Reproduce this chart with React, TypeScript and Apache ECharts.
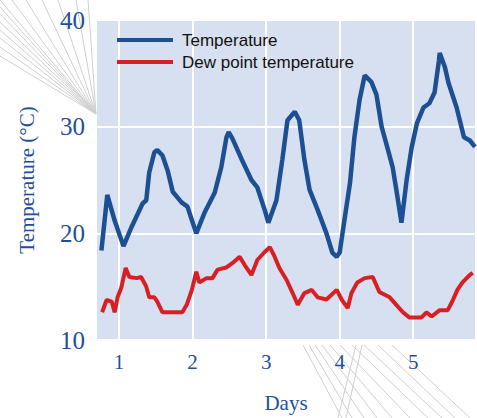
import React, { useEffect, useRef } from "react";
import * as echarts from "echarts";

// Days (x) and temperatures (°C)
const tempDays = [0.76, 0.84, 0.94, 1.06, 1.17, 1.32, 1.37, 1.41, 1.48, 1.52, 1.59, 1.66, 1.73, 1.85, 1.93, 2.03, 2.05, 2.16, 2.30, 2.39, 2.46, 2.49, 2.54, 2.67, 2.80, 2.88, 2.98, 3.03, 3.14, 3.22, 3.29, 3.39, 3.45, 3.52, 3.59, 3.70, 3.82, 3.90, 3.96, 4.00, 4.07, 4.14, 4.20, 4.27, 4.34, 4.43, 4.50, 4.57, 4.63, 4.72, 4.77, 4.84, 4.91, 4.98, 5.05, 5.14, 5.22, 5.29, 5.35, 5.36, 5.43, 5.48, 5.59, 5.69, 5.77, 5.84];
const tempValues = [18.4, 23.6, 21.2, 18.8, 20.6, 22.8, 23.1, 25.7, 27.6, 27.8, 27.3, 25.9, 23.9, 22.9, 22.5, 20.4, 20.0, 21.9, 23.8, 26.2, 29.0, 29.5, 28.9, 26.9, 25.0, 24.3, 22.2, 21.0, 23.1, 26.9, 30.6, 31.4, 30.6, 26.9, 24.1, 22.2, 20.0, 18.2, 17.8, 18.2, 21.5, 24.7, 29.0, 32.5, 34.8, 34.2, 33.0, 30.0, 28.5, 26.2, 24.1, 21.0, 25.0, 28.1, 30.3, 31.8, 32.2, 33.2, 36.2, 36.9, 35.6, 34.1, 31.8, 29.0, 28.7, 28.1];

const dewDays = [0.77, 0.83, 0.90, 0.94, 0.98, 1.03, 1.09, 1.14, 1.24, 1.30, 1.37, 1.41, 1.48, 1.52, 1.59, 1.73, 1.86, 1.92, 1.99, 2.05, 2.09, 2.19, 2.27, 2.34, 2.46, 2.54, 2.64, 2.71, 2.80, 2.88, 2.98, 3.05, 3.11, 3.18, 3.28, 3.36, 3.43, 3.52, 3.62, 3.70, 3.82, 3.96, 4.03, 4.11, 4.16, 4.24, 4.34, 4.45, 4.54, 4.68, 4.77, 4.86, 4.95, 5.11, 5.18, 5.25, 5.36, 5.47, 5.54, 5.60, 5.67, 5.77, 5.81];
const dewValues = [12.6, 13.75, 13.6, 12.6, 14.0, 14.9, 16.75, 15.9, 15.8, 15.9, 15.0, 14.0, 14.0, 13.6, 12.6, 12.6, 12.6, 13.3, 14.7, 16.4, 15.4, 15.8, 15.8, 16.6, 16.8, 17.2, 17.8, 17.0, 16.1, 17.5, 18.25, 18.7, 17.9, 16.75, 15.6, 14.4, 13.3, 14.4, 14.7, 14.0, 13.8, 14.7, 13.75, 13.0, 14.4, 15.4, 15.8, 15.9, 14.5, 14.0, 13.3, 12.6, 12.1, 12.1, 12.6, 12.2, 12.8, 12.8, 13.75, 14.7, 15.4, 16.1, 16.3];

const xTicks = [1, 2, 3, 4, 5];
const seriesNames = ["Temperature", "Dew point temperature"];

const BLUE = "#1d4f93";
const RED = "#d81f24";
const LABEL = "#1f4f9c";

// decorative faint lines of the original picture
const fanTop: number[][] = [
  [0, 0], [0, 7], [0, 14], [0, 22], [0, 30], [0, 38], [0, 47], [0, 56],
  [12, 0], [26, 0], [42, 0], [58, 0], [76, 0], [88, 0],
];
const fanBottom: number[][] = [
  [303, 345, 342, 418], [309, 345, 352, 418], [315, 345, 364, 418],
  [322, 345, 377, 418], [330, 345, 392, 418], [340, 345, 410, 418],
  [352, 345, 428, 418], [364, 345, 442, 418], [378, 345, 455, 418],
  [392, 345, 470, 418], [356, 345, 338, 418], [362, 345, 346, 418],
];

export default function App() {
  const ref = useRef<HTMLDivElement>(null);
  useEffect(() => {
    document.body.style.margin = "0";
    const chart = echarts.init(ref.current!, undefined, { renderer: "svg" });
    const graphics: any[] = [];
    fanTop.forEach(([x, y]) =>
      graphics.push({
        type: "line",
        silent: true,
        z: -10,
        shape: { x1: x, y1: y, x2: 96, y2: 114 },
        style: { stroke: "#cfcfcf", lineWidth: 1 },
      })
    );
    fanBottom.forEach(([x1, y1, x2, y2]) =>
      graphics.push({
        type: "line",
        silent: true,
        z: -10,
        shape: { x1, y1, x2, y2 },
        style: { stroke: "#cfcfcf", lineWidth: 1 },
      })
    );
    chart.setOption({
      animation: false,
      backgroundColor: "#ffffff",
      graphic: graphics,
      grid: {
        left: 97,
        right: 2,
        top: 20,
        bottom: 78,
        show: true,
        backgroundColor: "#d6e0f0",
        borderWidth: 0,
      },
      legend: {
        orient: "vertical",
        left: 112,
        top: 26,
        itemWidth: 56,
        itemHeight: 4,
        itemGap: 4,
        icon: "rect",
        data: seriesNames,
        textStyle: {
          fontFamily: "Liberation Sans",
          fontSize: 17,
          color: "#111111",
          lineHeight: 18,
          padding: [0, 0, 0, 4],
        },
      },
      xAxis: {
        type: "value",
        min: 0.7,
        max: 5.84,
        name: "Days",
        nameLocation: "middle",
        nameGap: 52,
        nameTextStyle: { fontFamily: "Liberation Serif", fontSize: 21, color: LABEL },
        axisLine: { show: false },
        axisTick: { show: false, customValues: xTicks },
        axisLabel: {
          customValues: xTicks,
          margin: 11,
          fontFamily: "Liberation Serif",
          fontSize: 21,
          color: LABEL,
        },
        splitLine: { show: true, lineStyle: { color: "#ffffff", width: 2 } },
      },
      yAxis: {
        type: "value",
        min: 10,
        max: 40,
        interval: 10,
        name: "Temperature (°C)",
        nameLocation: "middle",
        nameGap: 60,
        nameTextStyle: { fontFamily: "Liberation Serif", fontSize: 21, color: LABEL },
        axisLine: { show: false },
        axisTick: { show: false },
        axisLabel: {
          margin: 12,
          fontFamily: "Liberation Serif",
          fontSize: 25,
          color: LABEL,
        },
        splitLine: { show: true, lineStyle: { color: "#ffffff", width: 2 } },
      },
      series: [
        {
          name: seriesNames[0],
          type: "line",
          showSymbol: false,
          color: BLUE,
          lineStyle: { width: 4.5, color: BLUE },
          data: tempDays.map((d, i) => [d, tempValues[i]]),
        },
        {
          name: seriesNames[1],
          type: "line",
          showSymbol: false,
          color: RED,
          lineStyle: { width: 4, color: RED },
          data: dewDays.map((d, i) => [d, dewValues[i]]),
        },
      ],
    });
    return () => chart.dispose();
  }, []);
  return (
    <div
      ref={ref}
      style={{ position: "absolute", left: 0, top: 0, width: 477, height: 418 }}
    />
  );
}
